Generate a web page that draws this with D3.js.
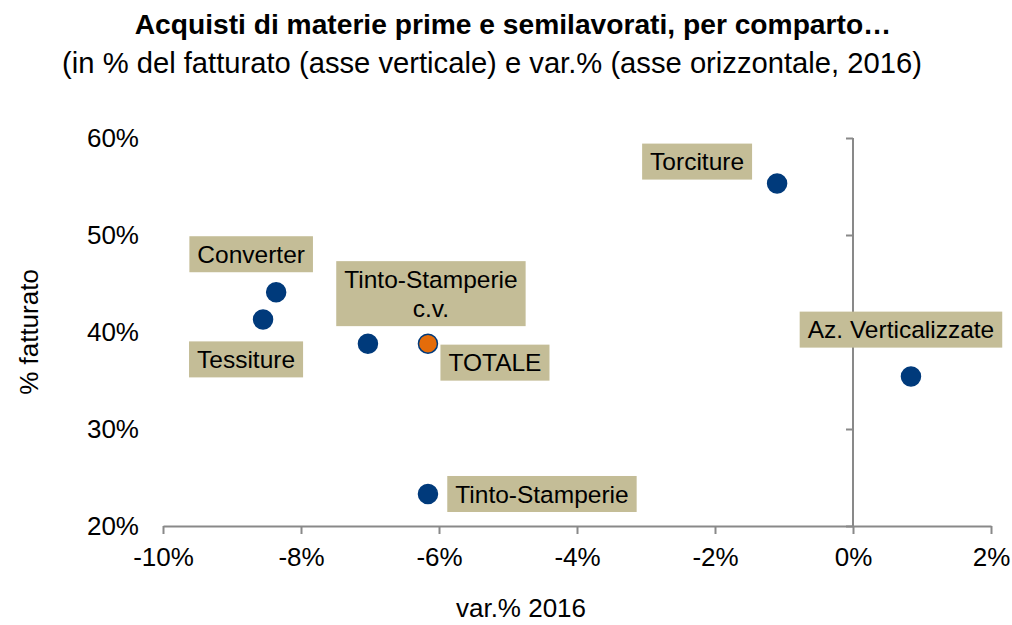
<!DOCTYPE html>
<html lang="it">
<head>
  <meta charset="UTF-8">
  <title>Acquisti di materie prime e semilavorati</title>
  <script src="https://d3js.org/d3.v7.min.js"></script>
  <style>
    body { margin: 0; background: #fff; font-family: Arial, "Liberation Sans", sans-serif; }
    .axis path, .axis line { stroke: #898989; stroke-width: 2; }
    .axis text { font-family: Arial, "Liberation Sans", sans-serif; font-size: 26px; fill: #000; }
  </style>
</head>
<body>
  <script>
    // Data
    const names = ["Torciture", "Converter", "Tessiture", "Tinto-Stamperie\nc.v.", "TOTALE", "Az. Verticalizzate", "Tinto-Stamperie"];
    const varPct = [-1.10, -8.36, -8.55, -7.03, -6.16, 0.84, -6.16];
    const fatturatoPct = [55.3, 44.1, 41.3, 38.8, 38.8, 35.4, 23.3];
    const isTotal = [false, false, false, false, true, false, false];
    const xTicks = [-10, -8, -6, -4, -2, 0, 2];
    const yTicks = [20, 30, 40, 50, 60];

    // label box offsets from point (layout only)
    const labelOffsets = [[-80, -22], [-25, -38], [-17, 40], [63, -50], [67, 19], [-10, -47], [114, 0]];

    const W = 1012, H = 625;
    const svg = d3.select("body").append("svg")
      .attr("width", W).attr("height", H);

    const x = d3.scaleLinear().domain([-10, 2]).range([163, 991]);
    const y = d3.scaleLinear().domain([20, 60]).range([526, 138]);

    // Titles
    svg.append("text")
      .attr("x", 513).attr("y", 34)
      .attr("text-anchor", "middle")
      .style("font-size", "28.2px").style("font-weight", "bold")
      .text("Acquisti di materie prime e semilavorati, per comparto…");
    svg.append("text")
      .attr("x", 492).attr("y", 73)
      .attr("text-anchor", "middle")
      .style("font-size", "29.2px")
      .text("(in % del fatturato (asse verticale) e var.% (asse orizzontale, 2016)");

    // X axis
    svg.append("g").attr("class", "axis")
      .attr("transform", `translate(0,${y(20)})`)
      .call(d3.axisBottom(x).tickValues(xTicks).tickFormat(d => d + "%")
        .tickSizeInner(8).tickSizeOuter(0).tickPadding(14));

    // Y axis crossing at x = 0
    const yAxis = svg.append("g").attr("class", "axis")
      .attr("transform", `translate(${x(0)},0)`)
      .call(d3.axisLeft(y).tickValues(yTicks).tickFormat(d => d + "%")
        .tickSizeInner(7).tickSizeOuter(0));
    yAxis.selectAll("text").attr("x", 139 - x(0));
    yAxis.select(".domain").attr("d", `M0,${y(60)}V${y(20)}`);

    // Axis titles
    svg.append("text")
      .attr("transform", `translate(38,${(y(20) + y(60)) / 2}) rotate(-90)`)
      .attr("text-anchor", "middle")
      .style("font-size", "26px")
      .text("% fatturato");
    svg.append("text")
      .attr("x", 521).attr("y", 617)
      .attr("text-anchor", "middle")
      .style("font-size", "26px")
      .text("var.% 2016");

    // Labels
    const labels = svg.append("g");
    names.forEach((n, i) => {
      const lines = n.split("\n");
      const cx = x(varPct[i]) + labelOffsets[i][0];
      const cy = y(fatturatoPct[i]) + labelOffsets[i][1];
      const g = labels.append("g");
      const rect = g.append("rect").attr("fill", "#C4BD97");
      const lh = 29;
      const t = g.append("text")
        .attr("text-anchor", "middle")
        .style("font-size", "24.5px");
      lines.forEach((l, j) => {
        t.append("tspan")
          .attr("x", cx)
          .attr("y", cy + (j - (lines.length - 1) / 2) * lh)
          .attr("dy", "0.35em")
          .text(l);
      });
      const bw = t.node().getBBox().width + 16;
      const bh = lines.length * lh + 7;
      rect.attr("x", cx - bw / 2).attr("y", cy - bh / 2)
        .attr("width", bw).attr("height", bh);
    });

    // Points
    svg.append("g").selectAll("circle")
      .data(names.map((n, i) => i))
      .join("circle")
      .attr("cx", i => x(varPct[i]))
      .attr("cy", i => y(fatturatoPct[i]))
      .attr("r", 9.5)
      .attr("fill", i => isTotal[i] ? "#E46C0A" : "#003A7B")
      .attr("stroke", "#003A7B")
      .attr("stroke-width", 1.5);
  </script>
</body>
</html>
